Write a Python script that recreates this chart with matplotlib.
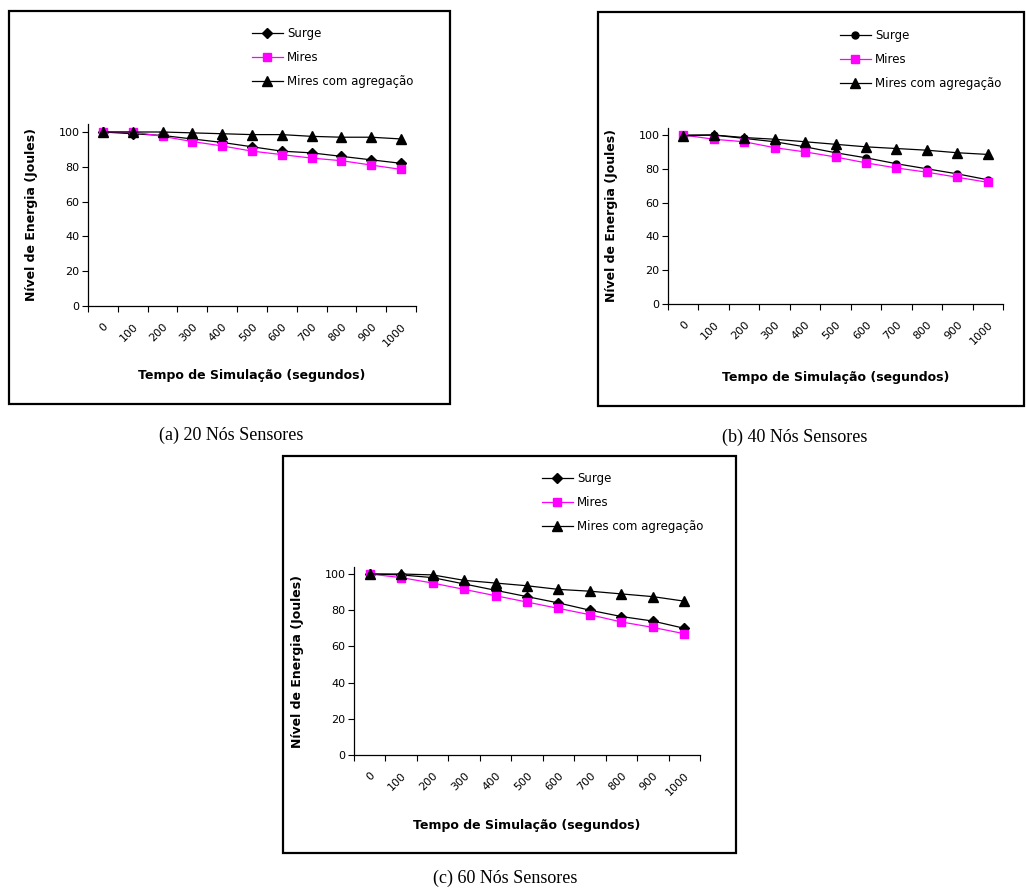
import numpy as np
import matplotlib.pyplot as plt
from matplotlib.patches import Rectangle

W, H = 1026, 893

tempos = ['0', '100', '200', '300', '400', '500', '600', '700', '800', '900', '1000']
series_names = ['Surge', 'Mires', 'Mires com agregação']

# (a) 20 nos
surge_20 = [100, 99, 98, 96, 94, 91.5, 89, 88, 86, 84, 82]
mires_20 = [100, 100, 97.5, 94.5, 92, 89, 87, 85, 83.5, 81, 78.5]
agreg_20 = [100, 100, 100, 99.5, 99, 98.5, 98.5, 97.5, 97, 97, 96]

# (b) 40 nos
surge_40 = [100, 100, 98, 96, 93, 89.5, 86.5, 83, 80, 77, 73.5]
mires_40 = [100, 97.5, 96, 92.5, 90, 87, 83.5, 80.5, 78, 75, 72]
agreg_40 = [99.5, 100, 98.5, 97.5, 96, 94.5, 93, 92, 91, 89.5, 88.5]

# (c) 60 nos
surge_60 = [100, 99.5, 98, 94.5, 91, 87.5, 84, 80, 76.5, 74, 70]
mires_60 = [100, 98, 95, 91.5, 88, 84.5, 81, 77.5, 73.5, 70.5, 67]
agreg_60 = [100, 100, 99.5, 96.5, 95, 93.5, 91.5, 90.5, 89, 87.5, 85]

captions = ['(a) 20 Nós Sensores', '(b) 40 Nós Sensores', '(c) 60 Nós Sensores']

fig = plt.figure(figsize=(W / 100, H / 100), dpi=100)


def fx(px):
    return px / W


def fy(py):
    return 1 - py / H


def panel(ax_px, frame_px, legend_px, caption_xy, caption, surge, mires, agreg,
          surge_marker, xlab_y, ylab_x):
    x0, x1, y0, ytop, y100 = ax_px
    ax = fig.add_axes([fx(x0), fy(y0), fx(x1 - x0), (y0 - ytop) / H])
    ymax = 100 * (y0 - ytop) / (y0 - y100)
    x = np.arange(len(tempos))
    l1, = ax.plot(x, surge, color='black', lw=0.9, marker=surge_marker, ms=5,
                  mfc='black', mec='black')
    l2, = ax.plot(x, mires, color='#ff00ff', lw=0.9, marker='s', ms=6,
                  mfc='#ff00ff', mec='#ff00ff')
    l3, = ax.plot(x, agreg, color='black', lw=0.9, marker='^', ms=6.5,
                  mfc='black', mec='black')
    ax.set_xlim(-0.5, len(tempos) - 0.5)
    ax.set_ylim(0, ymax)
    ax.set_yticks([0, 20, 40, 60, 80, 100])
    ax.set_xticks(np.arange(len(tempos) + 1) - 0.5)
    ax.set_xticklabels([])
    ax.set_xticks(x, minor=True)
    ax.set_xticklabels(tempos, minor=True, rotation=45, ha='right', va='top',
                       rotation_mode='anchor', fontsize=8)
    ax.tick_params(axis='x', which='minor', length=0, pad=11)
    ax.tick_params(axis='x', which='major', length=4, width=0.8, direction='out')
    ax.tick_params(axis='y', length=4, width=0.8, direction='out', labelsize=8, pad=2)
    for s in ['top', 'right']:
        ax.spines[s].set_visible(False)
    for s in ['left', 'bottom']:
        ax.spines[s].set_linewidth(0.9)
    ax.set_xlabel('Tempo de Simulação (segundos)', fontsize=9, fontweight='bold')
    ax.set_ylabel('Nível de Energia (Joules)', fontsize=9, fontweight='bold')
    ax.xaxis.set_label_coords(0.5, (y0 - xlab_y) / (y0 - ytop))
    ax.yaxis.set_label_coords((ylab_x - x0) / (x1 - x0), 0.5)

    lx, ly = legend_px
    fig.legend([l1, l2, l3], series_names, loc='upper left',
               bbox_to_anchor=(fx(lx), fy(ly)), frameon=False, fontsize=8.5,
               handlelength=2.6, handletextpad=0.35, labelspacing=0.95,
               borderaxespad=0, borderpad=0)

    a, b, c, d = frame_px
    fig.patches.append(Rectangle((fx(a), fy(d)), fx(c - a), (d - b) / H,
                                 transform=fig.transFigure, fill=False,
                                 edgecolor='black', lw=1.6))
    fig.text(fx(caption_xy[0]), fy(caption_xy[1]), caption, ha='center', va='center',
             fontsize=13, family='Liberation Serif')


panel((88, 416, 306, 124, 132), (8.5, 11, 450, 404), (252, 27), (231, 435),
      captions[0], surge_20, mires_20, agreg_20, 'D', 369, 38)
panel((668, 1003, 304, 128, 135), (598, 12, 1024, 406), (840, 29), (795, 437),
      captions[1], surge_40, mires_40, agreg_40, 'o', 371, 618)
panel((354, 700, 755, 567, 574), (283, 456, 736, 853), (542, 472), (505, 878),
      captions[2], surge_60, mires_60, agreg_60, 'D', 819, 304)

fig.savefig('out.png', dpi=100)
